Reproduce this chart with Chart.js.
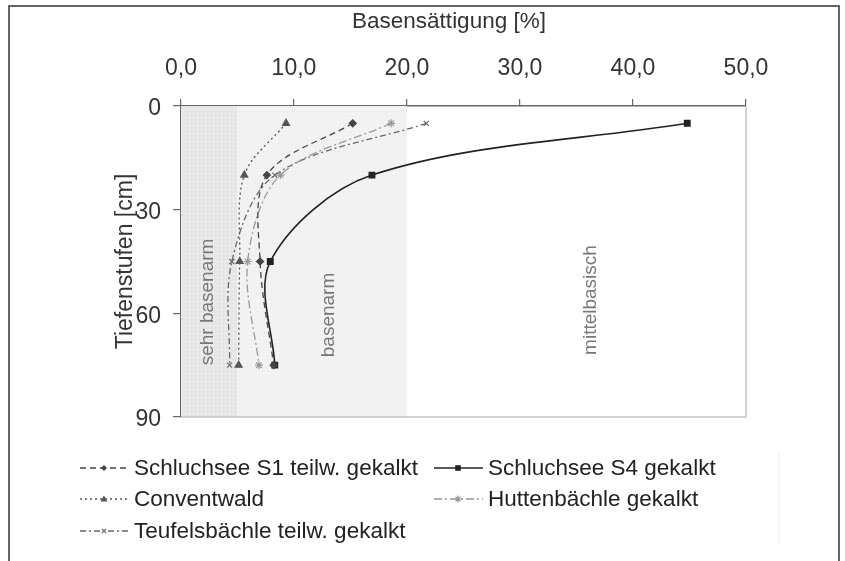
<!DOCTYPE html>
<html>
<head>
    <title>Basensättigung</title>
    <script src="https://cdn.jsdelivr.net/npm/chart.js"></script>
    <style>
        body { margin: 0; background: #fff; }
        canvas { display: block; }
    </style>
</head>
<body>
    <canvas id="bsChart" width="845" height="561"></canvas>
    <script>
        // Tiefenstufen (Mitte der Schicht, cm)
        var depths = [5, 20, 45, 75];

        var seriesNames = [
            'Schluchsee S1 teilw. gekalkt',
            'Schluchsee S4 gekalkt',
            'Conventwald',
            'Huttenbächle gekalkt',
            'Teufelsbächle teilw. gekalkt'
        ];

        // Basensättigung [%] je Tiefenstufe
        var schluchseeS1 = [15.2, 7.6, 7.0, 8.2];
        var schluchseeS4 = [44.8, 16.9, 7.9, 8.3];
        var conventwald = [9.3, 5.6, 5.2, 5.1];
        var huttenbaechle = [18.6, 8.8, 5.9, 6.9];
        var teufelsbaechle = [21.7, 8.3, 4.5, 4.3];

        var xTickLabels = ['0,0', '10,0', '20,0', '30,0', '40,0', '50,0'];
        var yTickLabels = ['0', '30', '60', '90'];

        // Bereiche: sehr basenarm, basenarm, mittelbasisch
        var zoneNames = ['sehr basenarm', 'basenarm', 'mittelbasisch'];
        var zoneLimits = [0, 5, 20, 50];

        var FONT = 'Liberation Sans, Arial, sans-serif';

        function toPoints(values) {
            return values.map(function(v, i) { return { x: v, y: depths[i] }; });
        }

        var styles = [
            { color: '#444', dash: [6, 4], point: 'rectRot', r: 3.5, width: 1.3 },
            { color: '#222', dash: [], point: 'rect', r: 4, width: 1.6 },
            { color: '#555', dash: [2, 3], point: 'triangle', r: 4, width: 1.3 },
            { color: '#999', dash: [8, 3, 2, 3], point: 'star', r: 4, width: 1.3 },
            { color: '#666', dash: [6, 3, 2, 3], point: 'crossRot', r: 3.5, width: 1.3 }
        ];

        var allValues = [schluchseeS1, schluchseeS4, conventwald, huttenbaechle, teufelsbaechle];

        var datasets = allValues.map(function(vals, i) {
            var s = styles[i];
            return {
                label: seriesNames[i],
                data: toPoints(vals),
                borderColor: s.color,
                backgroundColor: s.color,
                borderWidth: s.width,
                borderDash: s.dash,
                pointStyle: s.point,
                pointRadius: s.r,
                pointBorderWidth: 1.2,
                tension: 0.33,
                fill: false
            };
        });

        function makePattern(ctx, base) {
            var c = document.createElement('canvas');
            c.width = 4; c.height = 4;
            var p = c.getContext('2d');
            p.fillStyle = base;
            p.fillRect(0, 0, 4, 4);
            p.fillStyle = '#ffffff';
            p.fillRect(1, 1, 1, 1);
            return ctx.createPattern(c, 'repeat');
        }

        function drawMarker(ctx, style, x, y, r, color) {
            ctx.save();
            ctx.fillStyle = color;
            ctx.strokeStyle = color;
            ctx.lineWidth = 1.2;
            ctx.setLineDash([]);
            ctx.beginPath();
            if (style === 'rect') {
                ctx.fillRect(x - r * 0.8, y - r * 0.8, r * 1.6, r * 1.6);
            } else if (style === 'rectRot') {
                ctx.moveTo(x, y - r); ctx.lineTo(x + r, y); ctx.lineTo(x, y + r); ctx.lineTo(x - r, y);
                ctx.closePath(); ctx.fill();
            } else if (style === 'triangle') {
                ctx.moveTo(x, y - r); ctx.lineTo(x + r, y + r * 0.7); ctx.lineTo(x - r, y + r * 0.7);
                ctx.closePath(); ctx.fill();
            } else if (style === 'star') {
                ctx.moveTo(x - r, y); ctx.lineTo(x + r, y);
                ctx.moveTo(x, y - r); ctx.lineTo(x, y + r);
                ctx.moveTo(x - r * 0.7, y - r * 0.7); ctx.lineTo(x + r * 0.7, y + r * 0.7);
                ctx.moveTo(x - r * 0.7, y + r * 0.7); ctx.lineTo(x + r * 0.7, y - r * 0.7);
                ctx.stroke();
            } else {
                ctx.moveTo(x - r * 0.7, y - r * 0.7); ctx.lineTo(x + r * 0.7, y + r * 0.7);
                ctx.moveTo(x - r * 0.7, y + r * 0.7); ctx.lineTo(x + r * 0.7, y - r * 0.7);
                ctx.stroke();
            }
            ctx.restore();
        }

        var zonesPlugin = {
            id: 'zones',
            beforeDatasetsDraw: function(chart) {
                var ctx = chart.ctx, a = chart.chartArea;
                var xs = chart.scales.x;
                var x0 = xs.getPixelForValue(zoneLimits[0]);
                var x1 = xs.getPixelForValue(zoneLimits[1]);
                var x2 = xs.getPixelForValue(zoneLimits[2]);
                var x3 = xs.getPixelForValue(zoneLimits[3]);
                ctx.save();
                ctx.fillStyle = makePattern(ctx, '#e6e6e6');
                ctx.fillRect(x0, a.top, x1 - x0, a.bottom - a.top);
                ctx.fillStyle = makePattern(ctx, '#f1f1f1');
                ctx.fillRect(x1, a.top, x2 - x1, a.bottom - a.top);

                // Rahmen rechts und unten
                ctx.strokeStyle = '#c4c4c4';
                ctx.lineWidth = 1.5;
                ctx.beginPath();
                ctx.moveTo(a.right, a.top);
                ctx.lineTo(a.right, a.bottom);
                ctx.lineTo(a.left, a.bottom);
                ctx.stroke();

                // Bereichsnamen, senkrecht
                ctx.fillStyle = '#777';
                ctx.font = '19px ' + FONT;
                ctx.textAlign = 'center';
                ctx.textBaseline = 'middle';
                var centers = [
                    [(x0 + x1) / 2 - 1, 302],
                    [(x1 + x2) / 2 + 7, 315],
                    [(x2 + x3) / 2 + 14, 300]
                ];
                zoneNames.forEach(function(name, i) {
                    ctx.save();
                    ctx.translate(centers[i][0], centers[i][1]);
                    ctx.rotate(-Math.PI / 2);
                    ctx.fillText(name, 0, 0);
                    ctx.restore();
                });
                ctx.restore();
            },
            afterDraw: function(chart) {
                var ctx = chart.ctx;
                ctx.save();
                // äußerer Rahmen
                ctx.strokeStyle = '#333';
                ctx.lineWidth = 1.5;
                ctx.beginPath();
                ctx.moveTo(9, 561);
                ctx.lineTo(9, 6);
                ctx.lineTo(839, 6);
                ctx.lineTo(839, 561);
                ctx.stroke();
                ctx.strokeStyle = '#ececec';
                ctx.lineWidth = 1;
                ctx.beginPath();
                ctx.moveTo(779, 453);
                ctx.lineTo(779, 543);
                ctx.stroke();

                // x-Achsentitel
                ctx.fillStyle = '#333';
                ctx.font = '22.5px ' + FONT;
                ctx.textAlign = 'center';
                ctx.textBaseline = 'middle';
                ctx.fillText('Basensättigung [%]', 449, 22);

                // Legende
                var items = [
                    { i: 0, x: 80, y: 468 },
                    { i: 1, x: 434, y: 468 },
                    { i: 2, x: 80, y: 499 },
                    { i: 3, x: 434, y: 499 },
                    { i: 4, x: 80, y: 531 }
                ];
                ctx.font = '22.5px ' + FONT;
                ctx.textBaseline = 'middle';
                ctx.textAlign = 'left';
                items.forEach(function(it) {
                    var s = styles[it.i];
                    ctx.strokeStyle = s.color;
                    ctx.lineWidth = s.width;
                    ctx.setLineDash(s.dash);
                    ctx.beginPath();
                    ctx.moveTo(it.x, it.y);
                    ctx.lineTo(it.x + 49, it.y);
                    ctx.stroke();
                    ctx.setLineDash([]);
                    drawMarker(ctx, s.point, it.x + 24, it.y, s.r - 0.5, s.color);
                    ctx.fillStyle = '#222';
                    ctx.fillText(seriesNames[it.i], it.x + 54, it.y + 1);
                });
                ctx.restore();
            }
        };

        var ctx = document.getElementById('bsChart').getContext('2d');
        var chart = new Chart(ctx, {
            type: 'line',
            data: { datasets: datasets },
            options: {
                responsive: false,
                animation: false,
                layout: { padding: { left: 0, top: 0, right: 99, bottom: 144 } },
                plugins: {
                    legend: { display: false },
                    tooltip: { enabled: false }
                },
                scales: {
                    x: {
                        type: 'linear',
                        position: 'top',
                        min: 0,
                        max: 50,
                        afterFit: function(scale) { scale.height = 106; },
                        ticks: {
                            stepSize: 10,
                            color: '#333',
                            padding: 17,
                            font: { size: 23, family: FONT },
                            callback: function(value) { return xTickLabels[Math.round(value / 10)]; }
                        },
                        grid: { drawOnChartArea: false, tickLength: 7, color: '#666', lineWidth: 1.2 },
                        border: { color: '#666', width: 1.5 },
                        title: { display: false }
                    },
                    y: {
                        type: 'linear',
                        reverse: true,
                        min: 0,
                        max: 90,
                        afterFit: function(scale) { scale.width = 181; },
                        ticks: {
                            stepSize: 30,
                            color: '#333',
                            padding: 12,
                            labelOffset: 3,
                            font: { size: 23, family: FONT },
                            callback: function(value) { return yTickLabels[Math.round(value / 30)]; }
                        },
                        grid: { drawOnChartArea: false, tickLength: 8, color: '#666', lineWidth: 1.2 },
                        border: { color: '#666', width: 1.5 },
                        title: {
                            display: true,
                            text: 'Tiefenstufen [cm]',
                            color: '#333',
                            font: { size: 23, family: FONT },
                            padding: { top: 112, bottom: 0 }
                        }
                    }
                }
            },
            plugins: [zonesPlugin]
        });
    </script>
</body>
</html>
